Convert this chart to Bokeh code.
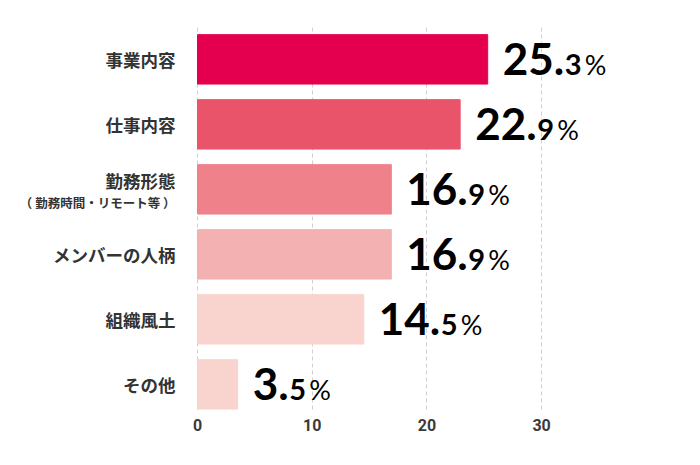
from bokeh.plotting import figure
from bokeh.models import Range1d, FixedTicker, ColumnDataSource, LabelSet
from bokeh.core.properties import value
from bokeh.embed import file_html
from bokeh.resources import INLINE

# ---- data ----
categories = ["事業内容", "仕事内容", "勤務形態", "メンバーの人柄", "組織風土", "その他"]
sub_labels = ["", "", "（ 勤務時間・リモート等 ）", "", "", ""]
percent = [25.3, 22.9, 16.9, 16.9, 14.5, 3.5]
bar_colors = ["#E4004F", "#E9546B", "#EE8189", "#F3B1B2", "#F9D4CF", "#F9D4CF"]
x_ticks = [0, 10, 20, 30]

pos = list(range(len(categories)))

# label parts
big_txt = [f"{int(v)}." for v in percent]
small_txt = [f"{v:.1f}".split(".")[1] for v in percent]
pct_txt = ["%"] * len(percent)

BIG_OFF = 15
DIGIT_W = 25.5
DOT_W = 11
small_off = [BIG_OFF + len(str(int(v))) * DIGIT_W + DOT_W for v in percent]
pct_off = [s + 20 for s in small_off]
main_yoff = [9 if s else 0 for s in sub_labels]

src = ColumnDataSource(dict(
    y=pos, right=percent, color=bar_colors, cat=categories, zero=[0] * len(pos),
    big=big_txt, small=small_txt, pct=pct_txt,
    small_off=small_off, pct_off=pct_off, main_yoff=main_yoff,
))
sub_idx = [i for i, s in enumerate(sub_labels) if s]
sub_src = ColumnDataSource(dict(
    y=[pos[i] for i in sub_idx], zero=[0] * len(sub_idx), sub=[sub_labels[i] for i in sub_idx]
))

PX_PER_UNIT = 11.47
ZERO_PX = 197          # pixel position of x=0 inside the frame
FRAME_W = 692
FRAME_H = 385

p = figure(
    frame_width=FRAME_W, frame_height=FRAME_H,
    x_range=Range1d(-ZERO_PX / PX_PER_UNIT, (FRAME_W - ZERO_PX) / PX_PER_UNIT),
    y_range=Range1d(start=-0.49 + FRAME_H / 65.0, end=-0.49),
    y_axis_type=None,
    output_backend="svg", toolbar_location=None,
    min_border_left=0, min_border_right=0, min_border_top=27, min_border_bottom=45,
)
p.outline_line_color = None
p.background_fill_color = "white"
p.border_fill_color = "white"

p.hbar(y="y", left="zero", right="right", height=0.76, color="color", source=src)

# x axis
ax = p.xaxis[0]
ax.ticker = FixedTicker(ticks=x_ticks)
ax.axis_line_color = None
ax.major_tick_line_color = None
ax.minor_tick_line_color = None
ax.major_label_text_font = "Roboto"
ax.major_label_text_font_style = "bold"
ax.major_label_text_font_size = "16px"
ax.major_label_text_color = "#3a3a3a"
ax.major_label_standoff = 0

p.xgrid.ticker = FixedTicker(ticks=x_ticks)
p.xgrid.grid_line_color = "#cfcfcf"
p.xgrid.grid_line_dash = "4 3"
p.xgrid.grid_line_width = 1
p.ygrid.grid_line_color = None

# category labels
p.add_layout(LabelSet(
    x="zero", y="y", text="cat", source=src, x_offset=-22, y_offset="main_yoff",
    text_align="right", text_baseline="middle",
    text_font=value("Noto Sans CJK JP"), text_font_style="bold",
    text_font_size="17.5px", text_color="#333333",
))
p.add_layout(LabelSet(
    x="zero", y="y", text="sub", source=sub_src, x_offset=-22, y_offset=-13,
    text_align="right", text_baseline="middle",
    text_font=value("Noto Sans CJK JP"), text_font_style="bold",
    text_font_size="12.5px", text_color="#333333",
))

# value labels
p.add_layout(LabelSet(
    x="right", y="y", text="big", source=src, x_offset=BIG_OFF, y_offset=-15.5,
    text_align="left", text_baseline="alphabetic",
    text_font=value("Lato"), text_font_style="bold",
    text_font_size="44px", text_color="#000000",
))
p.add_layout(LabelSet(
    x="right", y="y", text="small", source=src, x_offset="small_off", y_offset=-15.5,
    text_align="left", text_baseline="alphabetic",
    text_font=value("Lato"), text_font_style="bold",
    text_font_size="29px", text_color="#000000",
))
p.add_layout(LabelSet(
    x="right", y="y", text="pct", source=src, x_offset="pct_off", y_offset=-15.5,
    text_align="left", text_baseline="alphabetic",
    text_font=value("Lato"), text_font_style="normal",
    text_font_size="27px", text_color="#000000",
))

open("out.html", "w").write(file_html(p, INLINE))
